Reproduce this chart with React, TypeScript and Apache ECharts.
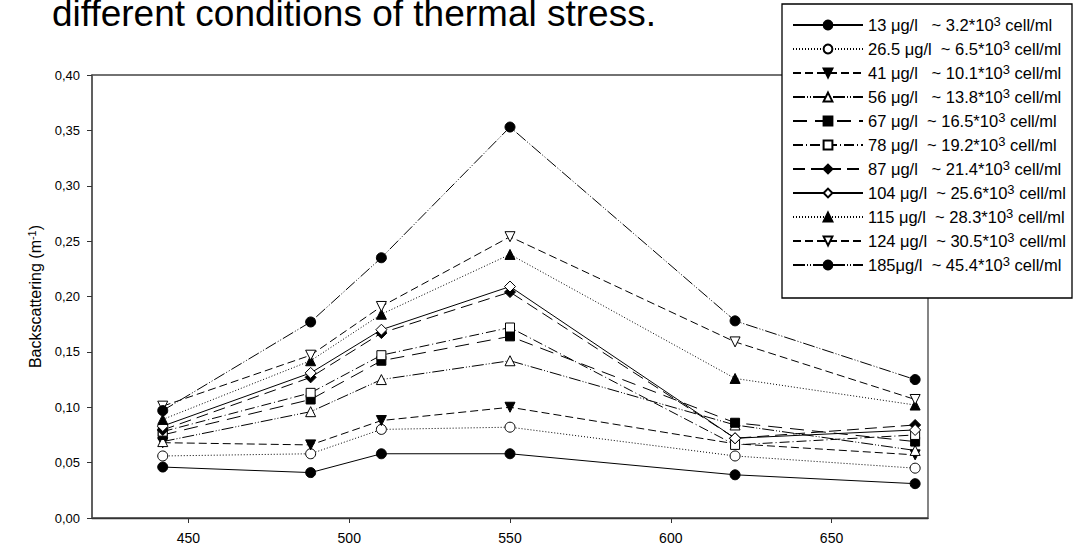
import React, { useEffect, useRef } from 'react';
import * as echarts from 'echarts';

const wavelengths = [442, 488, 510, 550, 620, 676];
const xTickValues = [450, 500, 550, 600, 650];
const titleText = 'different conditions of thermal stress.';
const yAxisName = '{a|Backscattering (m}{s|-1}{a|)}';

const seriesNames = [
  '13 μg/l   ~ 3.2*10³ cell/ml',
  '26.5 μg/l  ~ 6.5*10³ cell/ml',
  '41 μg/l   ~ 10.1*10³ cell/ml',
  '56 μg/l   ~ 13.8*10³ cell/ml',
  '67 μg/l  ~ 16.5*10³ cell/ml',
  '78 μg/l  ~ 19.2*10³ cell/ml',
  '87 μg/l   ~ 21.4*10³ cell/ml',
  '104 μg/l  ~ 25.6*10³ cell/ml',
  '115 μg/l  ~ 28.3*10³ cell/ml',
  '124 μg/l  ~ 30.5*10³ cell/ml',
  '185μg/l  ~ 45.4*10³ cell/ml',
];

const v13 = [0.046, 0.041, 0.058, 0.058, 0.039, 0.031];
const v26 = [0.056, 0.058, 0.080, 0.082, 0.056, 0.045];
const v41 = [0.068, 0.066, 0.088, 0.100, 0.067, 0.057];
const v56 = [0.069, 0.096, 0.125, 0.142, 0.084, 0.061];
const v67 = [0.075, 0.107, 0.142, 0.164, 0.086, 0.069];
const v78 = [0.078, 0.113, 0.147, 0.172, 0.066, 0.075];
const v87 = [0.0795, 0.127, 0.167, 0.204, 0.072, 0.084];
const v104 = [0.083, 0.131, 0.170, 0.209, 0.072, 0.0795];
const v115 = [0.089, 0.142, 0.184, 0.238, 0.126, 0.102];
const v124 = [0.101, 0.147, 0.191, 0.254, 0.159, 0.107];
const v185 = [0.097, 0.177, 0.235, 0.353, 0.178, 0.125];

const allValues = [v13, v26, v41, v56, v67, v78, v87, v104, v115, v124, v185];

const styles: { symbol: string; filled: boolean; rotate: number; dash: any; size: number }[] = [
  { symbol: 'circle', filled: true, rotate: 0, dash: 'solid', size: 10 },
  { symbol: 'circle', filled: false, rotate: 0, dash: [1, 2], size: 10 },
  { symbol: 'triangle', filled: true, rotate: 180, dash: [8, 4], size: 10 },
  { symbol: 'triangle', filled: false, rotate: 0, dash: [12, 2, 1, 2, 1, 2], size: 10 },
  { symbol: 'rect', filled: true, rotate: 0, dash: [14, 8], size: 9 },
  { symbol: 'rect', filled: false, rotate: 0, dash: [10, 3, 1, 3], size: 9 },
  { symbol: 'diamond', filled: true, rotate: 0, dash: [12, 6], size: 11 },
  { symbol: 'diamond', filled: false, rotate: 0, dash: 'solid', size: 11 },
  { symbol: 'triangle', filled: true, rotate: 0, dash: [1, 2], size: 10 },
  { symbol: 'triangle', filled: false, rotate: 180, dash: [8, 4], size: 10 },
  { symbol: 'circle', filled: true, rotate: 0, dash: [12, 2, 1, 2, 1, 2], size: 10 },
];

const FONT = '"Liberation Sans", Arial, sans-serif';

export default function App() {
  const ref = useRef<HTMLDivElement>(null);
  useEffect(() => {
    const chart = echarts.init(ref.current!, null, { renderer: 'svg' });
    const series = allValues.map((vals, i) => {
      const st = styles[i];
      return {
        name: seriesNames[i],
        type: 'line',
        data: vals.map((v, j) => [wavelengths[j], v]),
        symbol: st.symbol,
        symbolSize: st.size,
        symbolRotate: st.rotate,
        showAllSymbol: true,
        lineStyle: { color: '#000', width: 1, type: st.dash },
        itemStyle: st.filled
          ? { color: '#000', borderColor: '#000', borderWidth: 1 }
          : { color: '#fff', borderColor: '#000', borderWidth: 1 },
        emphasis: { disabled: true },
        z: 2 + i * 0.01,
      };
    });
    const option: any = {
      animation: false,
      backgroundColor: '#fff',
      textStyle: { fontFamily: FONT },
      grid: {
        left: 92,
        right: 147,
        top: 75,
        bottom: 30,
        show: true,
        borderColor: '#444',
        borderWidth: 1.3,
        containLabel: false,
      },
      xAxis: {
        type: 'value',
        min: 420,
        max: 680,
        splitLine: { show: false },
        axisLine: { show: true, lineStyle: { color: '#333', width: 1.3 } },
        axisTick: { show: true, length: 5, lineStyle: { color: '#333' }, customValues: xTickValues },
        axisLabel: { color: '#000', fontSize: 14, fontFamily: FONT, margin: 13, customValues: xTickValues },
      },
      yAxis: {
        type: 'value',
        min: 0,
        max: 0.4,
        interval: 0.05,
        name: yAxisName,
        nameLocation: 'middle',
        nameGap: 48,
        nameTextStyle: {
          color: '#000',
          fontSize: 16,
          fontFamily: FONT,
          rich: {
            a: { fontSize: 16, lineHeight: 18, fontFamily: FONT, color: '#000' },
            s: { fontSize: 11, verticalAlign: 'top', lineHeight: 6, fontFamily: FONT, color: '#000' },
          },
        },
        splitLine: { show: false },
        axisLine: { show: true, lineStyle: { color: '#555', width: 1.5 } },
        axisTick: { show: true, length: 5, lineStyle: { color: '#333' } },
        axisLabel: {
          color: '#000',
          fontSize: 13,
          fontFamily: FONT,
          margin: 12,
          formatter: (v: number) => v.toFixed(2).replace('.', ','),
        },
      },
      legend: {
        show: true,
        orient: 'vertical',
        left: 792,
        top: 15,
        padding: 0,
        itemWidth: 70,
        itemHeight: 11,
        itemGap: 5.5,
        itemTextGap: 9,
        selectedMode: false,
        z: 20,
        data: seriesNames,
        formatter: (name: string) => {
          const parts = name.split('³');
          return `{t|${parts[0]}}{s|3}{t|${parts[1]}}`;
        },
        textStyle: {
          rich: {
            t: { fontSize: 16.5, lineHeight: 20, fontFamily: FONT, color: '#000' },
            s: { fontSize: 13, lineHeight: 8, verticalAlign: 'top', fontFamily: FONT, color: '#000' },
          },
        },
      },
      graphic: [
        {
          type: 'text',
          x: 52,
          y: 13,
          z: 5,
          style: {
            text: titleText,
            font: `37px ${FONT}`,
            fill: '#000',
            verticalAlign: 'middle',
          },
        },
        {
          type: 'rect',
          z: 10,
          shape: { x: 782, y: 4, width: 290, height: 294 },
          style: { fill: '#fff', stroke: '#000', lineWidth: 1.3 },
        },
      ],
      series,
    };
    chart.setOption(option);
    return () => chart.dispose();
  }, []);
  return (
    <div
      ref={ref}
      style={{ position: 'fixed', left: 0, top: 0, width: 1075, height: 548 }}
    />
  );
}
